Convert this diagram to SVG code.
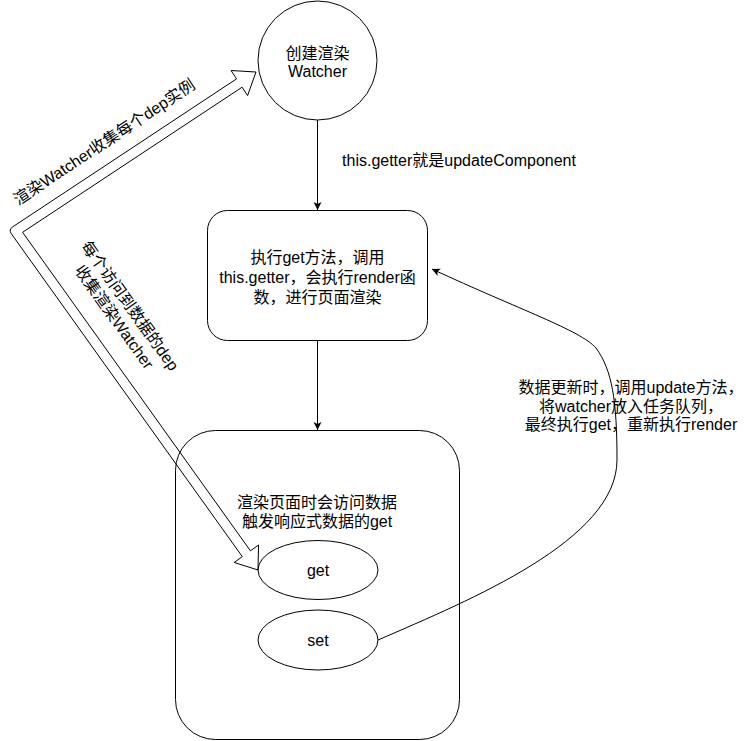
<svg xmlns="http://www.w3.org/2000/svg" width="755" height="741" viewBox="0 0 755 741">
<style>
  .shape { fill: #ffffff; stroke: #000000; stroke-width: 1; }
  .edge { fill: none; stroke: #000000; stroke-width: 1; }
  text { font-family: "Liberation Sans", "Noto Sans CJK SC", sans-serif; font-size: 16px; fill: #000000; }
  .c { text-anchor: middle; }
</style>
<defs>
  <marker id="arr" viewBox="-9 -5 10 10" refX="0" refY="0" markerWidth="10" markerHeight="10" markerUnits="userSpaceOnUse" orient="auto">
    <path d="M0,0 L-8,-4 L-6,0 L-8,4 Z" fill="#000000" stroke="none"/>
  </marker>
</defs>
<rect width="755" height="741" fill="#ffffff"/>

<g id="node-container">
  <rect class="shape" x="175.5" y="430.5" width="284" height="309" rx="40" ry="40"/>
  <text class="c" x="317" y="507.5">渲染页面时会访问数据</text>
  <text class="c" x="317" y="526.5">触发响应式数据的get</text>
</g>

<g id="node-watcher">
  <circle class="shape" cx="317.5" cy="60.5" r="59.5"/>
  <text class="c" x="317.5" y="58.5">创建渲染</text>
  <text class="c" x="317.5" y="77">Watcher</text>
</g>

<g id="node-get-method">
  <rect class="shape" x="207.5" y="210.5" width="220" height="130" rx="20" ry="20"/>
  <text class="c" x="317.5" y="263">执行get方法，调用</text>
  <text class="c" x="317.5" y="283">this.getter，会执行render函</text>
  <text class="c" x="317.5" y="303">数，进行页面渲染</text>
</g>

<g id="node-get">
  <ellipse class="shape" cx="318" cy="570" rx="60" ry="29.5"/>
  <text class="c" x="318" y="576">get</text>
</g>

<g id="node-set">
  <ellipse class="shape" cx="318" cy="640" rx="60" ry="30"/>
  <text class="c" x="318" y="646">set</text>
</g>

<g id="connectors">
  <line class="edge" x1="317.5" y1="120" x2="317.5" y2="210" marker-end="url(#arr)"/>
  <line class="edge" x1="317.5" y1="340" x2="317.5" y2="430" marker-end="url(#arr)"/>
  <path class="edge" d="M378,640 C470,600 617,540 617,460 C617,400 612,370 596,348 C580,330 520,310 432,269" marker-end="url(#arr)"/>
  <path class="edge" stroke-linejoin="round" d="M256,72 L247.59,95.54 L242.08,87.2 L22.58,232.31 L250.43,550.82 L258.56,545 L258,570 L234.16,562.46 L242.29,556.64 L11.33,233.76 Q8.42,229.69 12.59,226.93 L236.56,78.86 L231.05,70.52 Z"/>
</g>

<g id="labels">
  <text class="c" x="459" y="166">this.getter就是updateComponent</text>
  <text class="c" x="631" y="393">数据更新时，调用update方法，</text>
  <text class="c" x="631" y="411.5">将watcher放入任务队列，</text>
  <text class="c" x="631" y="430">最终执行get，重新执行render</text>
  <text class="c" transform="translate(104,141.7) rotate(-33.5)" x="0" y="6">渲染Watcher收集每个dep实例</text>
  <g transform="translate(130.5,305.5) rotate(54.4)">
    <text class="c" x="0" y="6">每个访问到数据的dep</text>
    <text class="c" x="0" y="25.5">收集渲染Watcher</text>
  </g>
</g>
</svg>
